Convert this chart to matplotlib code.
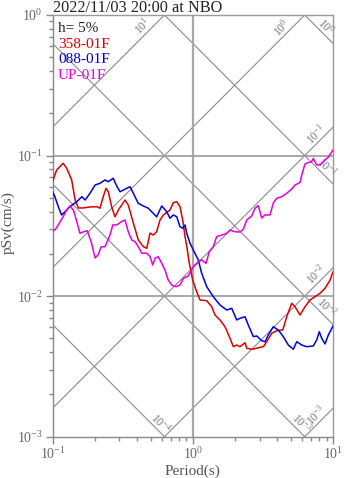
import numpy as np
import matplotlib
matplotlib.use("Agg")
import matplotlib.pyplot as plt
from matplotlib.ticker import LogLocator, FuncFormatter, NullFormatter

plt.rcParams['font.family'] = ['Liberation Serif', 'DejaVu Serif']
plt.rcParams['mathtext.fontset'] = 'custom'
plt.rcParams['mathtext.rm'] = 'Liberation Serif'
plt.rcParams['mathtext.it'] = 'Liberation Serif:italic'
plt.rcParams['mathtext.bf'] = 'Liberation Serif:bold'

# 358-01F (red)
t_ns = [0.100, 0.107, 0.119, 0.126, 0.137, 0.145, 0.153, 0.166, 0.185, 0.207,
        0.218, 0.230, 0.241, 0.250, 0.264, 0.279, 0.295, 0.329, 0.347, 0.377,
        0.409, 0.444, 0.470, 0.496, 0.523, 0.553, 0.584, 0.617, 0.688, 0.727,
        0.769, 0.811, 0.848, 0.881, 0.915, 0.945, 0.999, 1.067, 1.127, 1.258,
        1.365, 1.441, 1.564, 1.698, 1.844, 1.946, 2.058, 2.173, 2.358, 2.425,
        2.633, 2.858, 3.184, 3.368, 3.656, 3.968, 4.379, 4.677, 5.077, 5.359,
        5.817, 6.316, 6.855, 7.441, 8.08, 8.77, 9.52, 10.0]
sv_ns = [0.0652, 0.0789, 0.0881, 0.0816, 0.0671, 0.0483, 0.0424, 0.0424, 0.0431, 0.0433,
         0.0422, 0.0510, 0.0585, 0.0553, 0.0433, 0.0367, 0.0410, 0.0483, 0.0445, 0.0331,
         0.0251, 0.0225, 0.0219, 0.0281, 0.0272, 0.0287, 0.0348, 0.0378, 0.0410, 0.0462,
         0.0470, 0.0433, 0.0348, 0.0265, 0.0213, 0.0171, 0.0130, 0.01075, 0.00939, 0.00928,
         0.00841, 0.00734, 0.00677, 0.00606, 0.00501, 0.00437, 0.00449, 0.00437, 0.00466, 0.00426,
         0.00419, 0.00426, 0.00437, 0.00474, 0.00544, 0.00568, 0.00574, 0.00714, 0.00889, 0.00841,
         0.00734, 0.00841, 0.00939, 0.00991, 0.01047, 0.01137, 0.0130, 0.0149]

# 088-01F (blue)
t_ew = [0.100, 0.104, 0.110, 0.116, 0.123, 0.133, 0.149, 0.162, 0.171, 0.185,
        0.201, 0.218, 0.237, 0.250, 0.271, 0.287, 0.303, 0.338, 0.357, 0.377,
        0.409, 0.444, 0.482, 0.523, 0.553, 0.601, 0.652, 0.688, 0.727, 0.769,
        0.811, 0.848, 0.881, 0.906, 0.956, 1.009, 1.095, 1.158, 1.258, 1.401,
        1.564, 1.746, 1.896, 2.058, 2.173, 2.358, 2.489, 2.703, 2.858, 3.101,
        3.275, 3.457, 3.752, 4.074, 4.421, 4.801, 5.212, 5.511, 5.983, 6.494,
        7.237, 7.651, 7.986, 8.307, 8.77, 9.26, 10.0]
sv_ew = [0.0553, 0.0510, 0.0433, 0.0378, 0.0399, 0.0433, 0.0470, 0.0510, 0.0483, 0.0539,
         0.0617, 0.0635, 0.0671, 0.0652, 0.0689, 0.0607, 0.0553, 0.0585, 0.0600, 0.0539,
         0.0457, 0.0438, 0.0422, 0.0388, 0.0367, 0.0438, 0.0399, 0.0358, 0.0378, 0.0367,
         0.0312, 0.0304, 0.0321, 0.0280, 0.0238, 0.0213, 0.0181, 0.01454, 0.01167, 0.00991,
         0.00865, 0.00797, 0.00819, 0.00677, 0.00696, 0.00714, 0.00623, 0.00515, 0.00521, 0.00482,
         0.00474, 0.00529, 0.00606, 0.00574, 0.00515, 0.00449, 0.00419, 0.00474, 0.00449, 0.00437,
         0.00442, 0.00488, 0.00558, 0.00501, 0.00457, 0.00529, 0.00613]

# UP-01F (magenta)
t_ud = [0.100, 0.104, 0.110, 0.119, 0.126, 0.133, 0.141, 0.149, 0.157, 0.166,
        0.177, 0.190, 0.201, 0.211, 0.222, 0.237, 0.257, 0.269, 0.287, 0.311,
        0.329, 0.347, 0.367, 0.388, 0.409, 0.433, 0.470, 0.496, 0.518, 0.538,
        0.568, 0.601, 0.634, 0.669, 0.708, 0.760, 0.811, 0.856, 0.930, 1.009,
        1.095, 1.158, 1.243, 1.312, 1.401, 1.481, 1.609, 1.746, 1.844, 2.001,
        2.173, 2.293, 2.425, 2.633, 2.779, 2.935, 3.101, 3.275, 3.555, 3.752,
        3.968, 4.307, 4.677, 5.077, 5.359, 5.817, 5.983, 6.316, 6.667, 7.015,
        7.237, 7.651, 8.08, 8.77, 9.26, 10.0]
sv_ud = [0.0292, 0.0295, 0.0321, 0.0367, 0.0410, 0.0438, 0.0410, 0.0339, 0.0280, 0.0287,
         0.0292, 0.0238, 0.0187, 0.0196, 0.0224, 0.0225, 0.0272, 0.0321, 0.0321, 0.0339,
         0.0348, 0.0287, 0.0251, 0.0244, 0.0225, 0.0202, 0.0202, 0.0191, 0.01666, 0.0186,
         0.0191, 0.0171, 0.01534, 0.0130, 0.0120, 0.01167, 0.0120, 0.01339, 0.0139, 0.0162,
         0.01758, 0.0181, 0.0171, 0.0207, 0.0225, 0.0265, 0.0272, 0.0280, 0.0295, 0.0287,
         0.0286, 0.0299, 0.0348, 0.0372, 0.0422, 0.0441, 0.0360, 0.0378, 0.0378, 0.0460,
         0.0497, 0.0510, 0.0539, 0.0578, 0.0617, 0.0643, 0.0727, 0.0871, 0.0893, 0.0900,
         0.0953, 0.0857, 0.0857, 0.0930, 0.0977, 0.1095]

# tripartite guide lines: acceleration (cm/s^2) and displacement (cm)
acc_levels = [1e1, 1e0, 1e-1, 1e-2, 1e-3]
disp_levels = [1e0, 1e-1, 1e-2, 1e-3, 1e-4]
acc_lab_t = [0.48, 4.7, 8.2, 8.2, 8.2]
disp_lab_t = [8.2, 8.2, 8.2, 5.45, 0.545]

title = "2022/11/03 20:00 at NBO"
damping = "h= 5%"
names = ["358-01F", "088-01F", "UP-01F"]
colors = ["#d80000", "#0000d8", "#e000e0"]

fig = plt.figure(figsize=(3.47, 4.78), dpi=100)
ax = fig.add_axes([0.1513, 0.0864, 0.8084, 0.8822])
ax.set_xscale('log')
ax.set_yscale('log')
ax.set_xlim(0.1, 10)
ax.set_ylim(1e-3, 1)

gcol = '#8a8a8a'
tt = np.array([0.1, 10.0])
w = 2 * np.pi
for a in acc_levels:
    ax.plot(tt, a * tt / w, color=gcol, lw=0.8, zorder=1)
for d in disp_levels:
    ax.plot(tt, w * d / tt, color=gcol, lw=0.8, zorder=1)

ax.axvline(1.0, color='#a8a8a8', lw=1.6, zorder=1)
for yv in [0.1, 0.01]:
    ax.axhline(yv, color='#9a9a9a', lw=1.2, zorder=1)


def sup(v):
    return r'$10^{%d}$' % int(round(np.log10(v)))


for a, t in zip(acc_levels, acc_lab_t):
    ax.text(t, a * t / w, sup(a), rotation=45, rotation_mode='anchor',
            ha='center', va='bottom', fontsize=8.5, color='#777777', zorder=2)
for d, t in zip(disp_levels, disp_lab_t):
    ax.text(t, w * d / t, sup(d), rotation=-45, rotation_mode='anchor',
            ha='center', va='bottom', fontsize=8.5, color='#777777', zorder=2)

for t, v, c in zip([t_ns, t_ew, t_ud], [sv_ns, sv_ew, sv_ud], colors):
    ax.plot(t, v, color=c, lw=1.1, zorder=3)

# damping and component names in the upper left corner
ax.text(0.02, 0.983, damping, transform=ax.transAxes, fontsize=11,
        color='#222222', va='top', ha='left')
for i, (n, c) in enumerate(zip(names, colors)):
    ax.text(0.02, 0.983 - 0.0368 * (i + 1), n, transform=ax.transAxes,
            fontsize=11, color=c, va='top', ha='left')

for s in ax.spines.values():
    s.set_color('#888888')
    s.set_linewidth(1.0)
ax.spines['top'].set_color('#999999')
ax.spines['right'].set_color('#999999')

fmt = FuncFormatter(lambda v, p: sup(v))
ax.xaxis.set_major_locator(LogLocator(base=10, numticks=10))
ax.yaxis.set_major_locator(LogLocator(base=10, numticks=10))
ax.xaxis.set_minor_locator(LogLocator(base=10, subs=np.arange(2, 10), numticks=20))
ax.yaxis.set_minor_locator(LogLocator(base=10, subs=np.arange(2, 10), numticks=20))
ax.xaxis.set_major_formatter(fmt)
ax.yaxis.set_major_formatter(fmt)
ax.xaxis.set_minor_formatter(NullFormatter())
ax.yaxis.set_minor_formatter(NullFormatter())
ax.tick_params(which='major', direction='out', length=5, width=1,
               color='#888888', labelcolor='#666666', labelsize=10, pad=2)
ax.tick_params(which='minor', direction='out', length=3, width=1,
               color='#888888')
ax.tick_params(top=False, right=False)

ax.set_xlabel("Period(s)", fontsize=11, color='#555555', va='center')
ax.set_ylabel("pSv(cm/s)", fontsize=11, color='#555555', va='center')
ax.xaxis.set_label_coords(0.5, -0.083)
ax.yaxis.set_label_coords(-0.159, 0.507)

fig.text(0.153, 1 - 8 / 478, title, fontsize=11.7, color='#222222',
         ha='left', va='center')

fig.savefig("out.png", dpi=100)
